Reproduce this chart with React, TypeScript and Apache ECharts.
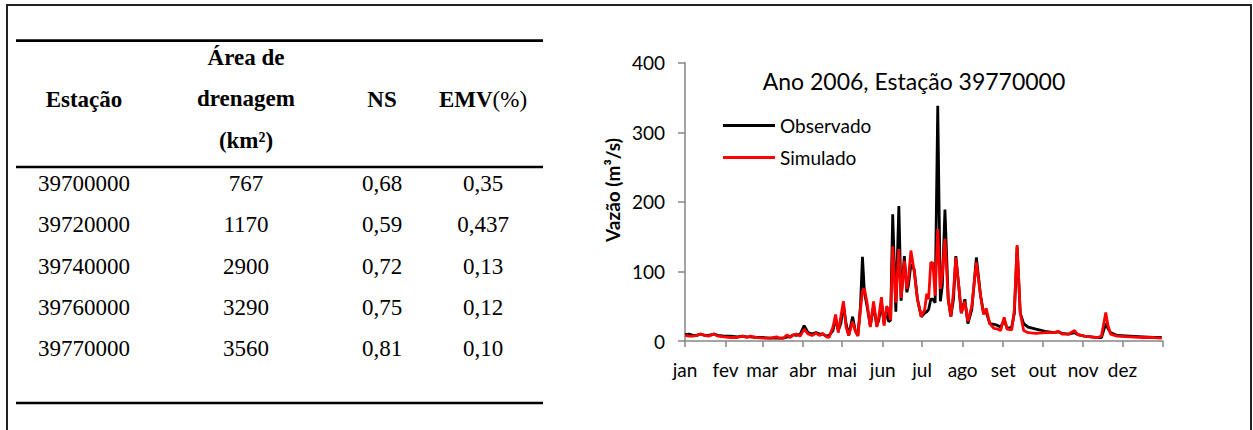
import React, { useEffect, useRef } from "react";
import * as echarts from "echarts";

// ---- Table data ----
const stations = ["39700000", "39720000", "39740000", "39760000", "39770000"];
const areas = ["767", "1170", "2900", "3290", "3560"];
const nsValues = ["0,68", "0,59", "0,72", "0,75", "0,81"];
const emvValues = ["0,35", "0,437", "0,13", "0,12", "0,10"];
const headerStation = "Estação";
const headerArea = ["Área de", "drenagem", "(km²)"];
const headerNS = "NS";
const headerEMV = ["EMV", "(%)"];

// ---- Chart data ----
const chartTitle = "Ano 2006, Estação 39770000";
const yAxisTitle = "Vazão (m³/s)";
const monthLabels = ["jan", "fev", "mar", "abr", "mai", "jun", "jul", "ago", "set", "out", "nov", "dez"];
const monthStarts = [0, 31, 59, 90, 120, 151, 181, 212, 243, 273, 304, 334];
const yearEnd = 365;
const yMax = 400;
const yStep = 100;

const days = [
  0, 3, 6, 9, 12, 15, 18, 22, 25, 30, 35, 40, 44, 47, 50, 55, 60, 65, 70, 72, 75, 78, 80, 83, 85, 88,
  91, 94, 97, 100, 103, 105, 108, 110, 113, 115, 117, 119, 121, 123, 125, 128, 130, 132, 134, 135.5,
  137, 139, 141.5, 144, 146.5, 148, 150, 152, 154, 155.5, 157, 158.6, 161, 163.3, 165, 167.5, 169.4,
  170.6, 172.5, 175, 177.5, 180.4, 183, 184.6, 186, 187.7, 189.3, 191, 193, 195, 196.5, 198.5, 201,
  203, 205, 206.8, 209, 211, 213.7, 216, 219, 222.5, 225.7, 228, 230, 232.7, 236, 239, 241, 243.7,
  246, 249.5, 251.5, 253.6, 256, 258.6, 262, 268, 275, 282, 285, 288, 293, 297.5, 300, 305, 310, 315,
  318, 321.3, 323, 325, 330, 340, 350, 358, 364,
];
const observado = [
  9, 10, 8, 8, 10, 8, 8, 10, 8, 7, 7, 6, 7, 6, 6, 5, 5, 4, 4, 4, 4, 6, 6, 9, 8, 10,
  22, 12, 10, 12, 10, 10, 7, 8, 15, 32, 15, 25, 52, 25, 8, 35, 15, 8, 50, 121,
  70, 50, 22, 50, 22, 30, 55, 25, 45, 28, 30, 182, 42, 194, 58, 122, 70,
  80, 110, 103, 60, 35, 40, 42, 45, 60, 60, 55, 338, 57, 80, 189, 60,
  35, 60, 122, 80, 40, 60, 25, 45, 120, 65, 40, 42, 25, 24, 22, 20, 30,
  18, 20, 40, 135, 40, 25, 20, 17, 14, 12, 13, 11, 10, 12, 9, 7, 6, 5,
  5, 25, 18, 12, 8, 7, 6, 5, 5,
];
const simulado = [
  8, 7, 7, 8, 10, 8, 7, 10, 7, 6, 5, 5, 7, 5, 7, 5, 4, 4, 6, 4, 4, 9, 5, 9, 10, 7,
  17, 10, 8, 11, 8, 11, 6, 5, 20, 38, 12, 35, 57, 20, 8, 28, 15, 7, 45, 72,
  75, 55, 20, 57, 20, 35, 63, 22, 50, 45, 30, 136, 55, 132, 62, 115, 75,
  90, 130, 100, 60, 35, 45, 68, 60, 113, 112, 65, 161, 75, 95, 147, 60,
  35, 70, 120, 80, 40, 57, 28, 50, 113, 65, 38, 47, 25, 18, 17, 15, 34,
  17, 16, 45, 138, 40, 15, 12, 11, 12, 12, 14, 10, 10, 15, 9, 7, 6, 5,
  7, 41, 22, 10, 7, 6, 5, 5, 4,
];

const chartFont = "Lato, 'Open Sans', sans-serif";
const tableFont = "'Liberation Serif', 'Times New Roman', serif";

export default function App() {
  const ref = useRef<HTMLDivElement>(null);

  useEffect(() => {
    document.body.style.margin = "0";
    if (!ref.current) return;
    const chart = echarts.init(ref.current, undefined, { renderer: "svg" });

    const colX = [84, 246, 382, 483];
    const rowY = [183, 224.5, 266, 307, 348.5];
    const tableText = (text: string, x: number, y: number, bold = false) => ({
      type: "text",
      x,
      y,
      silent: true,
      style: {
        text,
        fill: "#000",
        fontFamily: tableFont,
        fontSize: 23,
        fontWeight: bold ? "bold" : "normal",
        align: "center",
        verticalAlign: "middle",
      },
    });

    const graphics: any[] = [];
    // outer frame
    graphics.push({
      type: "polyline",
      silent: true,
      shape: { points: [[7, 440], [7, 5], [1251, 5], [1251, 440]] },
      style: { stroke: "#222", lineWidth: 2, fill: "none" },
    });
    // table rules
    [40.7, 167, 403].forEach((y) =>
      graphics.push({
        type: "line",
        silent: true,
        shape: { x1: 16, y1: y, x2: 543, y2: y },
        style: { stroke: "#000", lineWidth: 2.7 },
      })
    );
    // header
    graphics.push(tableText(headerStation, colX[0], 99, true));
    headerArea.forEach((t, i) => graphics.push(tableText(t, colX[1], 57 + i * 41.5, true)));
    graphics.push(tableText(headerNS, colX[2], 99, true));
    graphics.push({
      type: "text",
      x: colX[3],
      y: 99,
      silent: true,
      style: {
        text: `{b|${headerEMV[0]}}{r|${headerEMV[1]}}`,
        align: "center",
        verticalAlign: "middle",
        fontFamily: tableFont,
        fontSize: 23,
        fill: "#000",
        rich: {
          b: { fontFamily: tableFont, fontSize: 23, fontWeight: "bold", fill: "#000" },
          r: { fontFamily: tableFont, fontSize: 23, fontWeight: "normal", fill: "#000" },
        },
      },
    });
    // rows
    stations.forEach((s, i) => {
      graphics.push(tableText(s, colX[0], rowY[i]));
      graphics.push(tableText(areas[i], colX[1], rowY[i]));
      graphics.push(tableText(nsValues[i], colX[2], rowY[i]));
      graphics.push(tableText(emvValues[i], colX[3], rowY[i]));
    });
    // chart title
    graphics.push({
      type: "text",
      x: 914,
      y: 81,
      silent: true,
      style: {
        text: chartTitle,
        fill: "#000",
        fontFamily: chartFont,
        fontSize: 23,
        align: "center",
        verticalAlign: "middle",
      },
    });
    // y axis title
    graphics.push({
      type: "text",
      x: 612,
      y: 190,
      rotation: Math.PI / 2,
      silent: true,
      style: {
        text: yAxisTitle,
        fill: "#000",
        fontFamily: chartFont,
        fontSize: 19,
        fontWeight: "bold",
        align: "center",
        verticalAlign: "middle",
      },
    });

    const axisColor = "#868686";
    const option: any = {
      animation: false,
      grid: {
        left: 685,
        top: 62.7,
        width: 478,
        height: 278.3,
        containLabel: false,
        outerBoundsMode: "none",
      },
      legend: {
        orient: "vertical",
        left: 718,
        top: 111,
        icon: "rect",
        itemWidth: 52,
        itemHeight: 3,
        itemGap: 13,
        textStyle: { fontFamily: chartFont, fontSize: 19, color: "#000" },
        data: ["Observado", "Simulado"],
      },
      xAxis: {
        type: "value",
        min: 0,
        max: yearEnd,
        splitLine: { show: false },
        axisLine: { show: true, lineStyle: { color: axisColor, width: 1.5 } },
        axisTick: {
          show: true,
          length: 6,
          customValues: [...monthStarts, yearEnd],
          lineStyle: { color: axisColor, width: 1.5 },
        },
        axisLabel: {
          customValues: monthStarts,
          formatter: (v: number) => {
            const i = monthStarts.indexOf(Math.round(v));
            return i >= 0 ? monthLabels[i] : "";
          },
          fontFamily: chartFont,
          fontSize: 19,
          color: "#000",
          margin: 19,
        },
      },
      yAxis: {
        type: "value",
        min: 0,
        max: yMax,
        interval: yStep,
        splitLine: { show: false },
        axisLine: { show: true, lineStyle: { color: axisColor, width: 1.5 } },
        axisTick: { show: true, length: 7, lineStyle: { color: axisColor, width: 1.5 } },
        axisLabel: { fontFamily: chartFont, fontSize: 19, color: "#000", margin: 20 },
      },
      series: [
        {
          name: "Observado",
          type: "line",
          symbol: "none",
          data: days.map((d, i) => [d, observado[i]]),
          lineStyle: { color: "#000", width: 2.8 },
          itemStyle: { color: "#000" },
        },
        {
          name: "Simulado",
          type: "line",
          symbol: "none",
          data: days.map((d, i) => [d, simulado[i]]),
          lineStyle: { color: "#ff0000", width: 2.8 },
          itemStyle: { color: "#ff0000" },
        },
      ],
      graphic: graphics,
    };
    chart.setOption(option);
    return () => chart.dispose();
  }, []);

  return <div ref={ref} style={{ width: 1253, height: 430 }} />;
}
